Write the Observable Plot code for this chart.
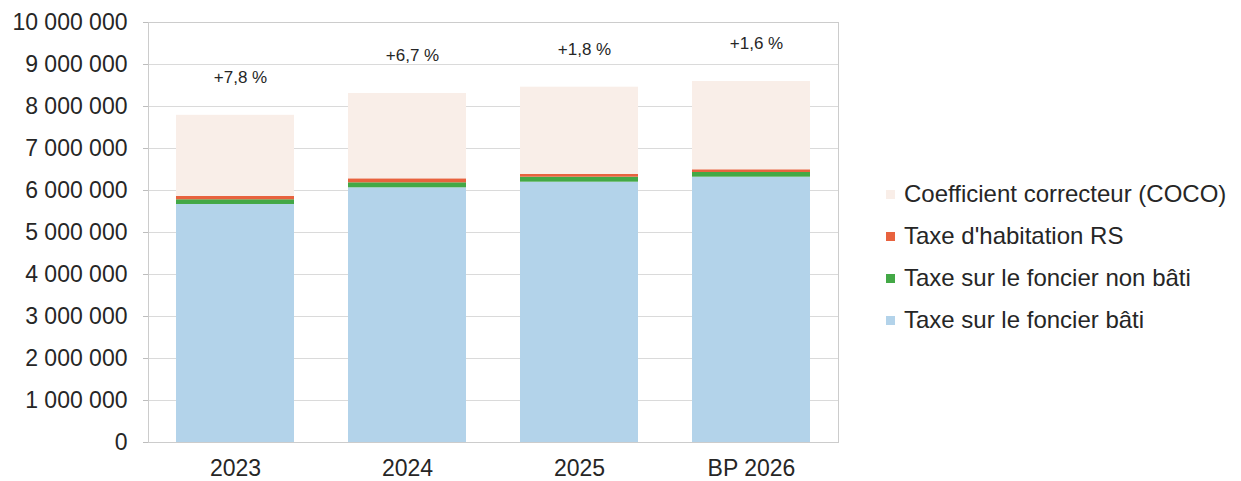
<!DOCTYPE html>
<html>
<head>
<meta charset="utf-8">
<script src="https://cdn.jsdelivr.net/npm/d3@7"></script>
<script src="https://cdn.jsdelivr.net/npm/@observablehq/plot@0.6"></script>
<style>
  html, body { margin: 0; padding: 0; background: #fff; }
  #wrap { position: relative; width: 1241px; height: 481px; }
  #legend { position: absolute; left: 886px; top: 173px; font-family: "Liberation Sans", Arial, sans-serif; font-size: 24px; color: #262626; }
  .row { display: flex; align-items: center; height: 42px; }
  .sw { width: 9px; height: 9px; margin-right: 9px; flex: none; }
</style>
</head>
<body>
<div id="wrap"><div id="chart"></div><div id="legend"></div></div>
<script>
const years = ["2023", "2024", "2025", "BP 2026"];
const series = ["Taxe sur le foncier bâti", "Taxe sur le foncier non bâti", "Taxe d'habitation RS", "Coefficient correcteur (COCO)"];
const colors = ["#b3d3ea", "#43a846", "#e8623e", "#f9eee8"];
const foncierBati = [5667000, 6064000, 6198000, 6317000];
const foncierNonBati = [112000, 119000, 119000, 112000];
const habitationRS = [79000, 95000, 64000, 64000];
const coco = [1932000, 2032000, 2079000, 2102000];
const evolution = ["+7,8 %", "+6,7 %", "+1,8 %", "+1,6 %"];
const yTicks = [0, 1000000, 2000000, 3000000, 4000000, 5000000, 6000000, 7000000, 8000000, 9000000, 10000000];

const values = [foncierBati, foncierNonBati, habitationRS, coco];
const rows = [];
series.forEach((s, i) => years.forEach((y, j) => rows.push({year: y, serie: s, value: values[i][j]})));
const totals = years.map((y, j) => ({year: y, total: values.reduce((a, v) => a + v[j], 0), label: evolution[j]}));

const fmt = d => d3.format(",")(d).replace(/,/g, "\u00a0");
const font = "Liberation Sans, Arial, sans-serif";

const chart = Plot.plot({
  width: 1241,
  height: 481,
  marginLeft: 148,
  marginRight: 403,
  marginTop: 22,
  marginBottom: 39,
  style: {fontFamily: font, fontSize: "23px", color: "#262626", background: "#fff"},
  x: {domain: years, paddingInner: 0.316, paddingOuter: 0.158, label: null},
  y: {domain: [0, 10000000], label: null},
  color: {domain: series, range: colors},
  marks: [
    Plot.gridY(yTicks, {stroke: "#dadada", strokeOpacity: 1}),
    Plot.barY(rows, {x: "year", y: "value", fill: "serie"}),
    Plot.frame({stroke: "#cccccc"}),
    Plot.axisY(yTicks, {tickFormat: fmt, tickSize: 5, tickPadding: 16, stroke: "#bdbdbd", fill: "#262626", label: null, fontSize: 23}),
    Plot.axisX({tickSize: 0, tickPadding: 17, label: null, fill: "#262626", fontSize: 23}),
    Plot.text(totals, {x: "year", y: "total", text: "label", dy: -38, dx: 5, fontSize: 17, fill: "#262626", fontFamily: font})
  ]
});
document.getElementById("chart").appendChild(chart);

const legend = document.getElementById("legend");
for (let i = series.length - 1; i >= 0; i--) {
  const r = document.createElement("div");
  r.className = "row";
  const sw = document.createElement("span");
  sw.className = "sw";
  sw.style.background = colors[i];
  const t = document.createElement("span");
  t.textContent = series[i];
  r.appendChild(sw); r.appendChild(t);
  legend.appendChild(r);
}
</script>
</body>
</html>
